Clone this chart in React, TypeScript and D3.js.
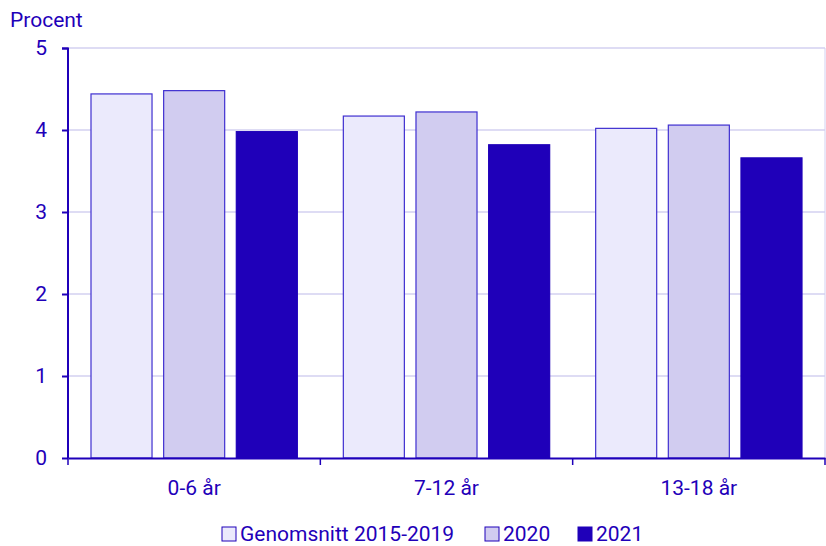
import React, { useEffect, useRef } from "react";
import * as d3 from "d3";

const categories = ["0-6 år", "7-12 år", "13-18 år"];
const seriesNames = ["Genomsnitt 2015-2019", "2020", "2021"];
const avg2015_2019 = [4.44, 4.17, 4.02];
const values2020 = [4.48, 4.22, 4.06];
const values2021 = [3.98, 3.82, 3.66];
const yTicks = [0, 1, 2, 3, 4, 5];

const fills = ["#ebeafc", "#d1ccf0", "#1f00b9"];
const strokes = ["#3f2fd0", "#3f2fd0", "#1f00b9"];
const ink = "#1f00b9";
const gridColor = "#d3d0f1";

export default function App() {
  const ref = useRef<SVGSVGElement>(null);

  useEffect(() => {
    const width = 826, height = 546;
    const margin = { top: 48, right: 1, bottom: 88, left: 68 };
    const innerW = width - margin.left - margin.right;
    const innerH = height - margin.top - margin.bottom;
    const series = [avg2015_2019, values2020, values2021];
    const fontSize = "21px";

    const svg = d3.select(ref.current);
    svg.selectAll("*").remove();
    svg.style("font-family", "Roboto, 'Open Sans', sans-serif");

    const g = svg.append("g").attr("transform", `translate(${margin.left},${margin.top})`);

    const x = d3.scaleBand().domain(categories).range([0, innerW]).paddingInner(0).paddingOuter(0);
    const x1 = d3.scaleBand().domain(seriesNames).range([23, x.bandwidth() - 23]).paddingInner(0.16);
    const y = d3.scaleLinear().domain([0, 5]).range([innerH, 0]);

    // gridlines
    g.selectAll(".grid")
      .data(yTicks.filter(t => t > 0))
      .join("line")
      .attr("x1", 0).attr("x2", innerW)
      .attr("y1", d => y(d)).attr("y2", d => y(d))
      .attr("stroke", gridColor).attr("stroke-width", 1.5);

    // right border
    g.append("line")
      .attr("x1", innerW).attr("x2", innerW)
      .attr("y1", 0).attr("y2", innerH)
      .attr("stroke", gridColor).attr("stroke-width", 1);

    // bars
    seriesNames.forEach((name, si) => {
      g.append("g")
        .selectAll("rect")
        .data(series[si])
        .join("rect")
        .attr("x", (d, i) => (x(categories[i]) ?? 0) + (x1(name) ?? 0))
        .attr("y", d => y(d))
        .attr("width", x1.bandwidth())
        .attr("height", d => innerH - y(d))
        .attr("fill", fills[si])
        .attr("stroke", strokes[si])
        .attr("stroke-width", 1.2);
    });

    // y axis
    const yAxis = g.append("g")
      .call(d3.axisLeft(y).tickValues(yTicks).tickSize(6).tickPadding(15).tickFormat(d3.format("d")));
    yAxis.select(".domain").attr("stroke", ink).attr("stroke-width", 2).attr("d", `M-6,0.5H0V${innerH}`);
    yAxis.selectAll(".tick line").attr("stroke", ink).attr("stroke-width", 2);
    yAxis.selectAll(".tick text").attr("fill", ink).style("font-size", fontSize).style("font-family", "Roboto, sans-serif");

    // x axis
    const xAxis = g.append("g")
      .attr("transform", `translate(0,${innerH})`)
      .call(d3.axisBottom(x).tickSize(0).tickPadding(22));
    xAxis.select(".domain").attr("stroke", ink).attr("stroke-width", 2);
    xAxis.selectAll(".tick text").attr("fill", ink).style("font-size", fontSize).style("font-family", "Roboto, sans-serif");
    g.append("g")
      .selectAll("line")
      .data([0, ...categories.map(c => (x(c) ?? 0) + x.bandwidth())])
      .join("line")
      .attr("x1", d => d).attr("x2", d => d)
      .attr("y1", innerH).attr("y2", innerH + 7)
      .attr("stroke", ink).attr("stroke-width", 1.5);

    // y label
    svg.append("text")
      .attr("x", 10).attr("y", 27)
      .attr("fill", ink)
      .style("font-size", fontSize)
      .text("Procent");

    // legend
    const legendX = [222, 485, 578];
    const legend = svg.append("g");
    seriesNames.forEach((name, i) => {
      legend.append("rect")
        .attr("x", legendX[i]).attr("y", 527)
        .attr("width", 14).attr("height", 14)
        .attr("fill", fills[i]).attr("stroke", i === 2 ? fills[i] : ink).attr("stroke-width", 1);
      legend.append("text")
        .attr("x", legendX[i] + 18).attr("y", 541)
        .attr("fill", ink)
        .style("font-size", fontSize)
        .text(name);
    });
  }, []);

  return (
    <svg ref={ref} width={826} height={546} style={{ position: "absolute", left: 0, top: 0, background: "#fff" }} />
  );
}
